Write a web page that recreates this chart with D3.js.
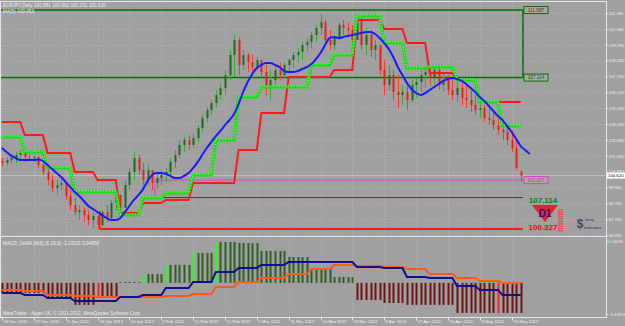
<!DOCTYPE html>
<html><head><meta charset="utf-8">
<script src="https://cdn.jsdelivr.net/npm/d3@7"></script>
<style>
body{margin:0;background:#a0a0a0;overflow:hidden}
svg{display:block}
text{font-family:"Liberation Sans",Arial,sans-serif}
</style>
</head><body>
<svg id="c" width="625" height="326"></svg>
<script>
// ---------------- DATA ----------------
const openP=[101.59,101.46,101.65,101.79,101.99,102.12,101.85,101.79,101.85,101.32,
100.86,100.33,99.80,100.00,100.13,99.27,98.67,98.21,98.34,98.01,
97.68,97.95,97.35,98.21,97.81,98.81,99.34,98.48,100.00,100.86,
101.79,100.99,100.33,100.99,100.13,100.46,100.66,100.86,101.52,101.99,
102.65,102.98,102.65,103.11,103.77,104.44,104.97,105.43,105.96,106.42,
107.28,108.61,109.60,107.95,108.61,108.14,107.81,108.28,107.48,106.42,
106.95,107.62,107.28,107.95,108.28,108.61,108.81,109.27,109.47,109.93,
110.40,110.79,109.60,109.27,109.73,110.60,110.40,110.26,109.60,110.93,
109.27,109.93,108.94,109.27,107.62,106.62,107.28,106.16,105.96,106.16,
105.63,106.62,106.82,107.28,107.48,107.09,107.62,106.62,106.95,106.29,
105.96,106.42,105.76,105.63,105.30,104.97,105.10,104.44,104.30,103.97,
103.64,103.51,102.98,102.45,100.88];
const highP=[101.79,101.85,101.92,102.18,102.32,102.12,102.05,101.99,101.92,101.65,
101.12,100.66,100.33,100.46,100.20,99.67,99.14,98.67,98.54,98.34,
98.21,98.01,98.34,98.67,99.01,99.67,99.34,100.33,101.12,102.18,
101.99,101.46,101.32,100.86,100.79,100.99,101.12,101.79,102.32,102.98,
103.18,103.31,103.44,103.97,104.64,105.16,105.63,106.29,106.75,107.62,
108.94,109.93,109.80,108.94,108.74,108.61,108.48,108.28,107.95,107.62,
107.95,108.14,108.14,108.41,108.81,109.07,109.47,109.73,110.13,110.60,
111.39,110.93,110.26,109.93,110.79,110.93,110.79,110.60,111.26,111.06,
110.40,110.26,109.60,108.94,108.28,107.95,107.62,107.28,106.62,106.62,
106.95,107.09,107.62,107.75,107.81,107.81,107.75,107.48,107.28,107.09,
106.95,106.82,106.62,106.29,105.96,105.63,105.30,105.10,104.83,104.64,
104.30,103.97,103.64,103.11,100.96];
const lowP=[101.26,101.32,101.39,101.46,101.65,101.52,101.59,101.52,101.12,100.66,
100.00,99.54,99.34,99.67,99.01,98.34,98.01,97.68,97.55,97.35,
97.15,97.08,97.28,97.55,97.68,98.34,98.01,98.67,99.67,100.33,
100.66,99.87,100.00,99.67,99.80,100.00,100.20,100.66,101.12,101.79,
102.18,102.32,102.45,102.85,103.51,104.17,104.64,105.10,105.63,105.96,
106.95,107.15,107.28,107.62,107.48,107.28,107.62,107.09,105.96,105.63,
106.62,106.95,107.09,107.48,107.75,108.14,108.28,108.81,109.07,109.47,
109.93,109.27,108.94,108.94,109.60,109.93,109.80,109.27,109.60,108.94,
108.61,108.48,108.28,107.28,105.96,106.29,105.63,105.10,105.30,104.97,
105.50,105.76,106.16,106.42,106.62,106.62,106.29,106.16,105.96,105.63,
105.50,105.30,105.10,104.83,104.64,104.44,104.17,103.97,103.64,103.31,
102.98,102.65,102.18,100.99,100.20];
const closeP=[101.46,101.65,101.79,101.99,102.12,101.85,101.79,101.85,101.32,100.86,
100.33,99.80,100.00,100.13,99.27,98.67,98.21,98.34,98.01,97.68,
97.95,97.35,98.21,97.81,98.81,99.34,98.48,100.00,100.86,101.79,
100.99,100.33,100.99,100.13,100.46,100.66,100.86,101.52,101.99,102.65,
102.98,102.65,103.11,103.77,104.44,104.97,105.43,105.96,106.42,107.28,
108.61,109.60,107.95,108.61,108.14,107.81,108.28,107.48,106.42,106.95,
107.62,107.28,107.95,108.28,108.61,108.81,109.27,109.47,109.93,110.40,
110.79,109.60,109.27,109.73,110.60,110.40,110.26,109.60,110.93,109.27,
109.93,108.94,109.27,107.62,106.62,107.28,106.16,105.96,106.16,105.63,
106.62,106.82,107.28,107.48,107.09,107.62,106.62,106.95,106.29,105.96,
106.42,105.76,105.63,105.30,104.97,105.10,104.44,104.30,103.97,103.64,
103.51,102.98,102.45,101.12,100.62];
// blue moving average (one value per bar, runs 2 bars past the last candle)
const maLine=[102.45,102.18,101.95,101.79,101.65,101.65,101.65,101.65,101.69,101.59,
101.32,101.06,100.79,100.53,100.20,99.87,99.54,99.27,98.94,98.61,
98.41,98.21,98.01,97.81,97.68,97.68,97.81,98.21,98.61,99.01,
99.34,99.73,100.26,100.66,100.79,100.79,100.73,100.60,100.46,100.46,
100.60,100.79,101.12,101.52,101.99,102.45,102.85,103.24,103.58,103.97,
104.30,104.70,105.36,106.16,106.82,107.35,107.75,107.95,108.08,108.08,
107.95,107.81,107.55,107.48,107.48,107.55,107.68,107.81,108.01,108.34,
108.74,109.27,109.73,109.80,109.73,109.80,109.87,109.93,110.00,110.07,
110.13,110.13,110.00,109.73,109.40,109.01,108.48,107.81,107.28,106.75,
106.36,106.09,105.96,106.09,106.29,106.49,106.69,106.89,107.02,107.09,
107.02,106.89,106.69,106.42,106.16,105.83,105.56,105.23,104.90,104.57,
104.30,103.91,103.51,103.05,102.58,102.32,102.05];
// weekly step indicators (first bar index of each week)
const weekStart=[0,5,10,16,21,26,31,36,42,47,52,57,63,68,73,78,84,89,94,100,105,110];
const redStep=[104.17,103.31,102.12,100.86,100.33,98.14,98.81,99.01,100.13,100.13,102.32,104.77,107.15,107.15,107.62,110.93,110.33,109.40,107.42,106.95,105.50,105.50];
const greenStep=[103.18,102.18,101.12,99.54,99.54,98.01,99.14,99.47,100.66,102.98,105.83,106.49,106.49,107.95,108.61,111.19,109.40,107.75,107.81,106.95,105.50,103.91];
// MACD_OsMA panel (weekly steps)
const macdBlue=[-3.14,-3.27,-3.46,-3.65,-3.65,-3.40,-3.27,-2.83,-2.45,-1.81,-1.56,-1.36,-1.17,-1.17,-1.17,-1.49,-1.56,-2.13,-2.19,-2.70,-2.95,-3.27];
const macdOrange=[-2.95,-3.02,-3.27,-3.33,-3.40,-3.40,-3.40,-3.33,-3.21,-2.76,-2.45,-2.19,-1.94,-1.62,-1.36,-1.43,-1.49,-1.62,-1.94,-2.19,-2.38,-2.51];
const macdHist=[-3.14,-3.14,-3.46,-3.90,-3.40,-2.44,-1.94,-1.36,-0.60,0.10,0.03,-0.47,-0.86,-1.56,-2.13,-3.59,-3.78,-3.90,-3.90,-4.41,-4.41,-4.41];
const histBase=-2.50;
const histBright=[21,31,36,42,47,109];
// axes
const priceTicks=[111.390,110.340,109.290,108.240,107.190,106.140,105.090,104.040,102.990,101.940,100.890,99.840,98.790,97.740,96.690];
const macdTicks=[0.16094,-4.47853];
const dateLabels=["18 Dec 2011","27 Dec 2011","5 Jan 2012","16 Jan 2012","24 Jan 2012","2 Feb 2012","12 Feb 2012","21 Feb 2012","1 Mar 2012","11 Mar 2012","20 Mar 2012","29 Mar 2012","8 Apr 2012","17 Apr 2012","26 Apr 2012","6 May 2012","15 May 2012"];
const dateIdx=[0,7,14,21,28,35,42,49,56,63,70,77,84,91,98,105,112];
// zones
const resistTop=111.587, resistBot=107.114, supportTop=100.327, supportBot=99.17, lowLine=97.08;
const resistStart=0, supportStart=33.6, lowStart=21.5, zoneEnd=114.5;
const lastPrice=100.620;
const header1="EURJPY,Daily  100.881 100.962 100.201 100.620";
const header2="MA(5) 100.053";
const macdTitle="MACD_OsMA [WS] (6,19,6) -2.20521 0.04859";
const footer="MetaTrader - Alpari UK, \u00a9 2001-2012, MetaQuotes Software Corp.";

// ---------------- DRAW ----------------
const FS=4.7, FA=4.3;
const svg=d3.select("#c");
const n=closeP.length;
const x=d3.scaleLinear().domain([0,114]).range([2,520.7]);
const y=d3.scaleLinear().domain([96.69,111.39]).range([235,13]);
const ym=d3.scaleLinear().domain([-4.47853,0.16094]).range([314,241]);
const AX=606;
const wk=i=>{let w=0;for(let k=0;k<weekStart.length;k++) if(weekStart[k]<=i) w=k;return w;};
const bars=d3.range(n);

svg.append("rect").attr("width",625).attr("height",326).attr("fill","#a0a0a0");

// grid
const grid=svg.append("g").attr("stroke","#b2b2b2").attr("stroke-width",1).attr("stroke-dasharray","1,2");
priceTicks.forEach(t=>grid.append("line").attr("x1",1).attr("x2",AX).attr("y1",Math.round(y(t))+0.5).attr("y2",Math.round(y(t))+0.5));
dateIdx.forEach(i=>grid.append("line").attr("x1",Math.round(x(i))+0.5).attr("x2",Math.round(x(i))+0.5).attr("y1",3).attr("y2",317));

// clip
svg.append("clipPath").attr("id","mainClip").append("rect").attr("x",0).attr("y",2).attr("width",AX).attr("height",234);
const main=svg.append("g").attr("clip-path","url(#mainClip)");

// bid line
main.append("line").attr("x1",0).attr("x2",AX).attr("y1",y(lastPrice)).attr("y2",y(lastPrice)).attr("stroke","#c4c4c4").attr("stroke-width",1);

// zones
main.append("line").attr("x1",x(resistStart)-2).attr("x2",x(zoneEnd)).attr("y1",y(resistTop)).attr("y2",y(resistTop)).attr("stroke","#0b6b0b").attr("stroke-width",1.5);
main.append("line").attr("x1",x(resistStart)-2).attr("x2",x(zoneEnd)).attr("y1",y(resistBot)).attr("y2",y(resistBot)).attr("stroke","#0b6b0b").attr("stroke-width",1.5);
main.append("line").attr("x1",x(zoneEnd)).attr("x2",x(zoneEnd)).attr("y1",y(resistTop)).attr("y2",y(resistBot)).attr("stroke","#0b6b0b").attr("stroke-width",1.5);
main.append("line").attr("x1",x(supportStart)).attr("x2",x(zoneEnd)).attr("y1",y(supportTop)).attr("y2",y(supportTop)).attr("stroke","#e040c0").attr("stroke-width",1);
main.append("line").attr("x1",x(supportStart)).attr("x2",x(supportStart)).attr("y1",y(supportTop)).attr("y2",y(supportBot)).attr("stroke","#e040c0").attr("stroke-width",1);
main.append("line").attr("x1",x(supportStart)).attr("x2",x(zoneEnd)).attr("y1",y(supportBot)).attr("y2",y(supportBot)).attr("stroke","#5a2a3a").attr("stroke-width",1);
main.append("line").attr("x1",x(lowStart)).attr("x2",x(zoneEnd)).attr("y1",y(lowLine)).attr("y2",y(lowLine)).attr("stroke","#ff1a1a").attr("stroke-width",2);
main.append("line").attr("x1",x(lowStart)).attr("x2",x(lowStart)).attr("y1",y(lowLine)-18).attr("y2",y(lowLine)).attr("stroke","#ff1a1a").attr("stroke-width",1.5);

// candles
const cg=main.append("g");
bars.forEach(i=>{
  const up=closeP[i]>=openP[i];
  const cx=Math.round(x(i))+0.5;
  cg.append("line").attr("x1",cx).attr("x2",cx).attr("y1",y(highP[i])).attr("y2",y(lowP[i]))
    .attr("stroke",up?"#3aa83a":"#ff3a2a").attr("stroke-width",1);
  const t=Math.min(y(openP[i]),y(closeP[i])), b=Math.max(y(openP[i]),y(closeP[i]));
  cg.append("rect").attr("x",cx-1).attr("y",t).attr("width",2).attr("height",Math.max(1,b-t))
    .attr("fill",up?"#1f6a1f":"#e8201a");
});

// step lines
const lineP=d3.line().x(d=>x(d[0])).y(d=>y(d[1]));
const redPts=bars.map(i=>[i,redStep[wk(i)]]);
const greenPts=bars.map(i=>[i,greenStep[wk(i)]]);
main.append("path").attr("d",lineP(redPts)).attr("fill","none").attr("stroke","#ff1a1a").attr("stroke-width",2);
main.append("path").attr("d",lineP(greenPts)).attr("fill","none").attr("stroke","#14e014").attr("stroke-width",3);
main.append("path").attr("d",lineP(greenPts)).attr("fill","none").attr("stroke","#d8ffd0").attr("stroke-width",0.8).attr("stroke-dasharray","1,2").attr("transform","translate(0,-1)");

// MA
main.append("path").attr("d",d3.line().x((d,i)=>x(i)).y(d=>y(d)).curve(d3.curveMonotoneX)(maLine))
  .attr("fill","none").attr("stroke","#1a1aff").attr("stroke-width",2);

// zone labels
function tag(px,py,txt,stroke,fill){
  const g=svg.append("g");
  g.append("rect").attr("x",px).attr("y",py-3.5).attr("width",24).attr("height",7).attr("fill","#a8a8a8").attr("stroke",stroke).attr("stroke-width",1);
  g.append("text").attr("x",px+12).attr("y",py+1.7).attr("text-anchor","middle").attr("font-size",FS).attr("fill",fill).text(txt);
}
tag(x(zoneEnd)+1,y(resistTop),d3.format(".3f")(resistTop),"#0b6b0b","#0b5b0b");
tag(x(zoneEnd)+1,y(resistBot),d3.format(".3f")(resistBot),"#0b6b0b","#0b5b0b");
tag(x(zoneEnd)+1,y(supportTop),d3.format(".3f")(supportTop),"#e040c0","#d030b0");

// D1 sign
svg.append("text").attr("x",543).attr("y",203).attr("text-anchor","middle").attr("font-size",8).attr("font-weight","bold").attr("fill","#0a7a1a").text(d3.format(".3f")(resistBot));
svg.append("path").attr("d","M532,205 L558,205 L545,222 Z").attr("fill","#e8202a");
svg.append("text").attr("x",545).attr("y",217).attr("text-anchor","middle").attr("font-size",10).attr("font-weight","bold").attr("fill","#1a1a90").text("D1");
svg.append("text").attr("x",543).attr("y",230).attr("text-anchor","middle").attr("font-size",8).attr("font-weight","bold").attr("fill","#e01010").text(d3.format(".3f")(supportTop));
d3.range(10).forEach(k=>svg.append("line").attr("x1",558).attr("x2",563).attr("y1",210+k*2.3).attr("y2",210+k*2.3).attr("stroke","#ff3030").attr("stroke-width",1));
svg.append("text").attr("x",580).attr("y",228).attr("text-anchor","middle").attr("font-size",12).attr("font-weight","bold").attr("fill","#4a4a4a").text("$");
svg.append("text").attr("x",585).attr("y",221).attr("font-size",4).attr("fill","#2a2a6a").text("herry");
svg.append("text").attr("x",584).attr("y",229).attr("font-size",4).attr("fill","#2a2a6a").text("Indicators");

// MACD panel
svg.append("clipPath").attr("id","macdClip").append("rect").attr("x",0).attr("y",237).attr("width",AX).attr("height",80);
const mp=svg.append("g").attr("clip-path","url(#macdClip)");
bars.forEach(i=>{
  const v=macdHist[wk(i)];
  const pos=v>histBase;
  const bright=histBright.includes(i);
  const cx=Math.round(x(i))+0.5;
  mp.append("rect").attr("x",cx-1).attr("width",2)
    .attr("y",Math.min(ym(v),ym(histBase))).attr("height",Math.max(1,Math.abs(ym(v)-ym(histBase))))
    .attr("fill",pos?(bright?"#20ff20":"#2f5f22"):(bright?"#ff2020":"#6e1414"));
});
const lineM=d3.line().x(d=>x(d[0])).y(d=>ym(d[1]));
mp.append("path").attr("d",lineM(bars.map(i=>[i,macdOrange[wk(i)]]))).attr("fill","none").attr("stroke","#ff5a14").attr("stroke-width",2);
mp.append("path").attr("d",lineM(bars.map(i=>[i,macdBlue[wk(i)]]))).attr("fill","none").attr("stroke","#10108a").attr("stroke-width",2);

// frame
const fr=svg.append("g").attr("stroke","#e6e6e6").attr("stroke-width",1);
fr.append("line").attr("x1",0).attr("x2",AX).attr("y1",1.5).attr("y2",1.5);
fr.append("line").attr("x1",0).attr("x2",AX).attr("y1",236.5).attr("y2",236.5);
fr.append("line").attr("x1",0).attr("x2",AX).attr("y1",317.5).attr("y2",317.5);
fr.append("line").attr("x1",AX+0.5).attr("x2",AX+0.5).attr("y1",1).attr("y2",318);
fr.append("line").attr("x1",0.5).attr("x2",0.5).attr("y1",1).attr("y2",318);

// price axis
const pa=svg.append("g").attr("transform",`translate(${AX+0.5},0)`)
  .call(d3.axisRight(y).tickValues(priceTicks).tickFormat(d3.format(".3f")).tickSize(1.5).tickPadding(0.5));
pa.select(".domain").remove();
pa.selectAll("line").attr("stroke","#e6e6e6");
pa.selectAll("text").attr("font-size",FA).attr("fill","#f0f0f0").attr("font-family","Liberation Sans,Arial,sans-serif");
// current price tag
svg.append("rect").attr("x",AX+1).attr("y",y(lastPrice)-3).attr("width",18).attr("height",6).attr("fill","#ffffff");
svg.append("text").attr("x",AX+2).attr("y",y(lastPrice)+1.6).attr("font-size",FA).attr("fill","#000").text(d3.format(".3f")(lastPrice));

// macd axis
const ma=svg.append("g").attr("transform",`translate(${AX+0.5},0)`)
  .call(d3.axisRight(ym).tickValues(macdTicks).tickFormat(d3.format(".5f")).tickSize(1.5).tickPadding(0.5));
ma.select(".domain").remove();
ma.selectAll("line").attr("stroke","#e6e6e6");
ma.selectAll("text").attr("font-size",3.9).attr("fill","#f0f0f0").attr("font-family","Liberation Sans,Arial,sans-serif");

// date axis
const da=svg.append("g").attr("transform","translate(0,317.5)");
dateIdx.forEach((i,k)=>{
  const px=Math.round(x(i))+0.5;
  da.append("line").attr("x1",px).attr("x2",px).attr("y1",0).attr("y2",3).attr("stroke","#e6e6e6");
  da.append("text").attr("x",px+1).attr("y",5.5).attr("font-size",FA).attr("fill","#f0f0f0").text(dateLabels[k]);
});

// header texts
svg.append("text").attr("x",3).attr("y",7).attr("font-size",FS).attr("fill","#f0f0f0").text(header1);
svg.append("text").attr("x",3).attr("y",12.5).attr("font-size",FS).attr("fill","#f0f0f0").text(header2);
svg.append("text").attr("x",3).attr("y",244.5).attr("font-size",FS).attr("fill","#f0f0f0").text(macdTitle);
svg.append("text").attr("x",3).attr("y",314.5).attr("font-size",FS).attr("fill","#f0f0f0").text(footer);
</script>
</body></html>
